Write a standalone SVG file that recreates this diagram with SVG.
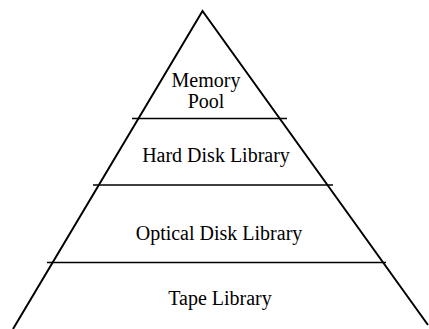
<svg xmlns="http://www.w3.org/2000/svg" width="429" height="329" viewBox="0 0 429 329">
<style>
.edge{stroke:#000;stroke-width:2;fill:none;stroke-linejoin:miter}
.div{stroke:#000;stroke-width:1.5;fill:none}
.lbl{font-family:"Liberation Serif","Times New Roman",serif;font-size:20px;fill:#000;text-anchor:middle}
</style>
<rect width="429" height="329" fill="#fff"/>
<g id="connectors">
<polyline class="edge" points="13,329 202.5,11 428,325"/>
<line class="div" x1="132" y1="118.5" x2="287" y2="118.5"/>
<line class="div" x1="93" y1="185" x2="333" y2="185"/>
<line class="div" x1="47" y1="262.5" x2="386" y2="262.5"/>
</g>
<g id="memory-pool"><text class="lbl" x="206" y="87">Memory</text><text class="lbl" x="206" y="108">Pool</text></g>
<g id="hard-disk-library"><text class="lbl" x="216" y="162">Hard Disk Library</text></g>
<g id="optical-disk-library"><text class="lbl" x="219" y="240">Optical Disk Library</text></g>
<g id="tape-library"><text class="lbl" x="220" y="305">Tape Library</text></g>
</svg>
